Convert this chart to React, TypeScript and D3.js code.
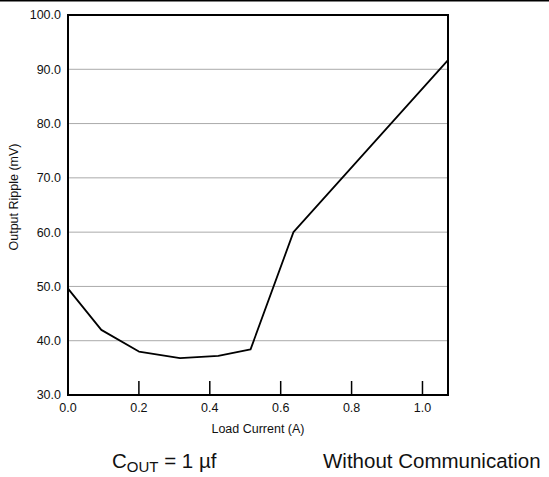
import React from "react";
import * as d3 from "d3";

const loadCurrent = [0, 0.094, 0.2, 0.316, 0.424, 0.515, 0.636, 1.072];
const ripple = [49.6, 42.0, 38.0, 36.8, 37.2, 38.4, 60.0, 91.7];
const yTicks = [30, 40, 50, 60, 70, 80, 90, 100];
const xTicks = [0, 0.2, 0.4, 0.6, 0.8, 1.0];
const xDomain = [0, 1.072];
const yDomain = [30, 100];

export default function App() {
  const W = 549, H = 477;
  const left = 68, right = 448, top = 15, bottom = 395;
  const x = d3.scaleLinear().domain(xDomain).range([left, right]);
  const y = d3.scaleLinear().domain(yDomain).range([bottom, top]);
  const pts = loadCurrent.map((v, i) => [v, ripple[i]] as [number, number]);
  const line = d3.line<[number, number]>().x(d => x(d[0])).y(d => y(d[1]));
  const font = "Arial, 'Liberation Sans', sans-serif";
  return (
    <svg width={W} height={H} style={{ position: "fixed", left: 0, top: 0, background: "#fff" }} fontFamily={font}>
      <rect x={0} y={0} width={W} height={H} fill="#fff" />
      <line x1={0} x2={W} y1={0.75} y2={0.75} stroke="#000" strokeWidth={1.5} />
      {yTicks.filter(t => t > 30 && t < 100).map(t => (
        <line key={t} x1={left} x2={right} y1={y(t)} y2={y(t)} stroke="#aaa" strokeWidth={1} />
      ))}
      {xTicks.filter(t => t > 0).map(t => (
        <line key={t} x1={x(t)} x2={x(t)} y1={bottom} y2={bottom - 14} stroke="#000" strokeWidth={1.5} />
      ))}
      <path d={line(pts) || ""} fill="none" stroke="#000" strokeWidth={1.8} strokeLinejoin="round" />
      <rect x={left} y={top} width={right - left} height={bottom - top} fill="none" stroke="#000" strokeWidth={2} />
      {yTicks.map(t => (
        <text key={t} x={left - 7} y={y(t)} dy="0.35em" textAnchor="end" fontSize={12.5} fill="#111">
          {t.toFixed(1)}
        </text>
      ))}
      {xTicks.map(t => (
        <text key={t} x={x(t)} y={bottom + 17} textAnchor="middle" fontSize={12.5} fill="#111">
          {t.toFixed(1)}
        </text>
      ))}
      <text x={(left + right) / 2} y={bottom + 38} textAnchor="middle" fontSize={12.5} fill="#111">
        Load Current (A)
      </text>
      <text transform={`translate(18, ${(top + bottom) / 2 - 8}) rotate(-90)`} textAnchor="middle" fontSize={12.5} fill="#111">
        Output Ripple (mV)
      </text>
      <text x={112} y={468} fontSize={20.5} fill="#111">
        C<tspan fontSize={15} dy={4}>OUT</tspan><tspan dy={-4}> = 1 µf</tspan>
      </text>
      <text x={323} y={468} fontSize={20.5} fill="#111">
        Without Communication
      </text>
    </svg>
  );
}
